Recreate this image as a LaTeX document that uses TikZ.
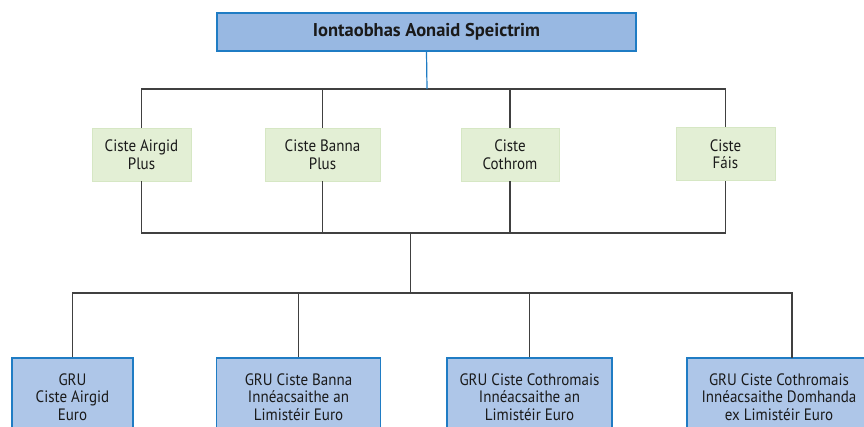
\documentclass[tikz,border=0pt]{standalone}
\usepackage{fontspec}
\setmainfont{PT Sans}
\newfontfamily\bodyfont[FakeStretch=0.91]{PT Sans}
\begin{document}
\begin{tikzpicture}[x=1pt,y=-1pt,
  conn/.style={draw=black!75,line width=1.2pt},
  blueline/.style={draw=boxborder,line width=1.2pt},
  topbox/.style={draw=boxborder,line width=1.2pt,fill=topfill,minimum width=419pt,minimum height=38pt,inner sep=0pt,text=txt,font=\fontsize{18.5}{20}\selectfont\bfseries},
  greenbox/.style={draw=greenborder,line width=0.8pt,fill=greenfill,minimum height=53pt,inner sep=0pt,align=center,text=txt,font=\bodyfont\fontsize{16.5}{17.5}\selectfont},
  bluebox/.style={draw=boxborder,line width=1.2pt,fill=botfill,minimum height=78pt,inner sep=0pt,align=center,text=txt,font=\bodyfont\fontsize{16.5}{17.5}\selectfont}
]
\definecolor{boxborder}{HTML}{1F7CC4}
\definecolor{topfill}{HTML}{98B8E2}
\definecolor{botfill}{HTML}{AEC6E8}
\definecolor{greenfill}{HTML}{E3EFD5}
\definecolor{greenborder}{HTML}{D6E7C4}
\definecolor{txt}{HTML}{1A1A1A}
\useasboundingbox (0,0) rectangle (864,426);
\clip (0,0) rectangle (864,426);

\node[topbox] (top) at (426.5,32) {Iontaobhas Aonaid Speictrim};

\node[greenbox,minimum width=99pt] (g1) at (141.5,154.5) {Ciste Airgid\\Plus};
\node[greenbox,minimum width=115pt] (g2) at (322.5,154.5) {Ciste Banna\\Plus};
\node[greenbox,minimum width=98pt] (g3) at (510,154.5) {Ciste\\Cothrom};
\node[greenbox,minimum width=99pt] (g4) at (725.5,154) {Ciste\\Fáis};

\node[bluebox,minimum width=121pt] (b1) at (72.5,397) {GRU\\Ciste Airgid\\Euro};
\node[bluebox,minimum width=164pt] (b2) at (298.5,397) {GRU Ciste Banna\\Innéacsaithe an\\Limistéir Euro};
\node[bluebox,minimum width=165pt] (b3) at (529.5,397) {GRU Ciste Cothromais\\Innéacsaithe an\\Limistéir Euro};
\node[bluebox,minimum width=184pt] (b4) at (779,397) {GRU Ciste Cothromais\\Innéacsaithe Domhanda\\ex Limistéir Euro};

\coordinate (j1) at (427,89);
\coordinate (j2) at (410.5,233);
\coordinate (j3) at (410.5,293);
\coordinate (d4) at (792,358);

\draw[conn] (g1.north) |- (g4.north |- j1) -- (g4.north);
\draw[conn] (g2.north) -- (g2.north |- j1);
\draw[conn] (g3.north) -- (g3.north |- j1);
\draw[blueline] (top.south) -- (j1);

\draw[conn] (g1.south) |- (g4.south |- j2) -- (g4.south);
\draw[conn] (g2.south) -- (g2.south |- j2);
\draw[conn] (g3.south) -- (g3.south |- j2);
\draw[conn] (j2) -- (j3);

\draw[conn] (b1.north) |- (d4 |- j3) -- (d4);
\draw[conn] (b2.north) -- (b2.north |- j3);
\draw[conn] (b3.north) -- (b3.north |- j3);
\end{tikzpicture}
\end{document}
